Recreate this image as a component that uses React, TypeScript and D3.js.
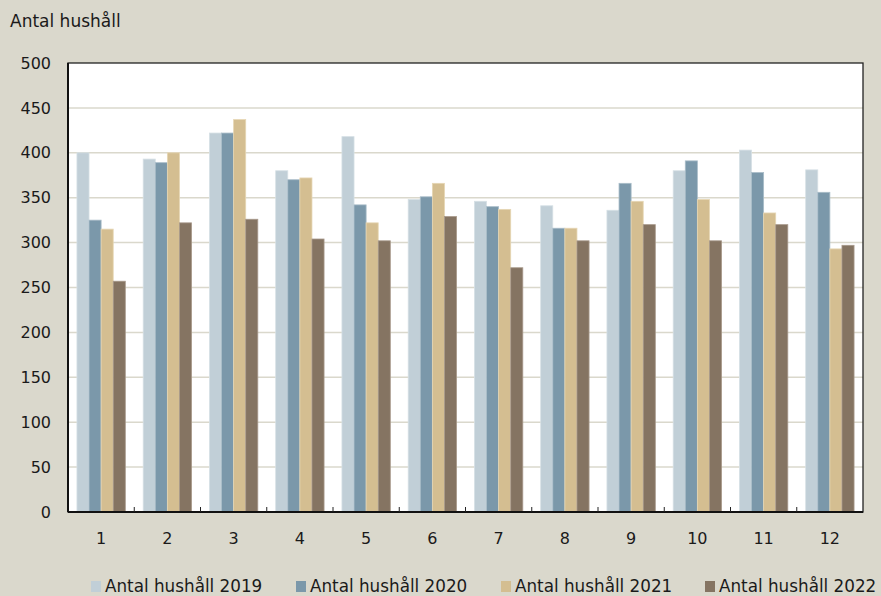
import React from "react";
import * as d3 from "d3";

const months = ["1", "2", "3", "4", "5", "6", "7", "8", "9", "10", "11", "12"];
const seriesNames = ["Antal hushåll 2019", "Antal hushåll 2020", "Antal hushåll 2021", "Antal hushåll 2022"];
const values2019 = [400, 393, 422, 380, 418, 348, 346, 341, 336, 380, 403, 381];
const values2020 = [325, 389, 422, 370, 342, 351, 340, 316, 366, 391, 378, 356];
const values2021 = [315, 400, 437, 372, 322, 366, 337, 316, 346, 348, 333, 293];
const values2022 = [257, 322, 326, 304, 302, 329, 272, 302, 320, 302, 320, 297];
const yTicks = [0, 50, 100, 150, 200, 250, 300, 350, 400, 450, 500];
const yTitle = "Antal hushåll";

const colors = ["#c1cfd7", "#7b98aa", "#d4be91", "#857462"];
const strokes = ["#d6e0e5", "#a9bcc8", "#e6d6b4", "#a8998b"];

export default function App() {
  const W = 881, H = 596;
  const left = 68, right = 863, top = 63, bottom = 512;
  const series = [values2019, values2020, values2021, values2022];
  const x = d3.scaleBand<string>().domain(months).range([left, right]).paddingInner(0).paddingOuter(0);
  const inner = d3.scaleBand<number>().domain([0, 1, 2, 3]).range([0, x.bandwidth()]).paddingOuter(0.74).paddingInner(0);
  const y = d3.scaleLinear().domain([0, 500]).range([bottom, top]);
  const font = "'DejaVu Sans', sans-serif";
  const legendX = [91, 296, 501, 705];

  return (
    <svg width={W} height={H} style={{ position: "absolute", left: 0, top: 0, background: "#dad8cc" }}>
      <rect x={0} y={0} width={W} height={H} fill="#dad8cc" />
      <rect x={left} y={top} width={right - left} height={bottom - top} fill="#ffffff" />
      {yTicks.filter((t) => t > 0 && t < 500).map((t) => (
        <line key={t} x1={left} x2={right} y1={y(t)} y2={y(t)} stroke="#dad8cc" strokeWidth={1.5} />
      ))}
      {series.map((vals, si) =>
        vals.map((v, i) => (
          <rect
            key={`${si}-${i}`}
            x={(x(months[i]) as number) + (inner(si) as number)}
            y={y(v)}
            width={inner.bandwidth()}
            height={bottom - y(v)}
            fill={colors[si]}
            stroke={strokes[si]}
            strokeWidth={0.8}
          />
        ))
      )}
      <rect x={left} y={top} width={right - left} height={bottom - top} fill="none" stroke="#222" strokeWidth={1.3} />
      <line x1={left} x2={left} y1={top} y2={bottom} stroke="#111" strokeWidth={2} />
      <line x1={left} x2={right} y1={bottom} y2={bottom} stroke="#111" strokeWidth={2} />
      {months.slice(1).map((m) => (
        <line key={m} x1={x(m) as number} x2={x(m) as number} y1={bottom} y2={bottom - 5} stroke="#222" strokeWidth={1} />
      ))}
      {yTicks.map((t) => (
        <text key={t} x={51} y={y(t)} dy="0.35em" textAnchor="end" fontFamily={font} fontSize={16} fill="#1a1a1a">
          {t}
        </text>
      ))}
      {months.map((m) => (
        <text key={m} x={(x(m) as number) + x.bandwidth() / 2} y={544} textAnchor="middle" fontFamily={font} fontSize={16} fill="#1a1a1a">
          {m}
        </text>
      ))}
      <text x={10} y={27} fontFamily={font} fontSize={17} fill="#1a1a1a">{yTitle}</text>
      {seriesNames.map((n, i) => (
        <g key={n}>
          <rect x={legendX[i]} y={581} width={10} height={11} fill={colors[i]} />
          <text x={legendX[i] + 14} y={592} fontFamily={font} fontSize={16.8} fill="#1a1a1a">{n}</text>
        </g>
      ))}
    </svg>
  );
}
